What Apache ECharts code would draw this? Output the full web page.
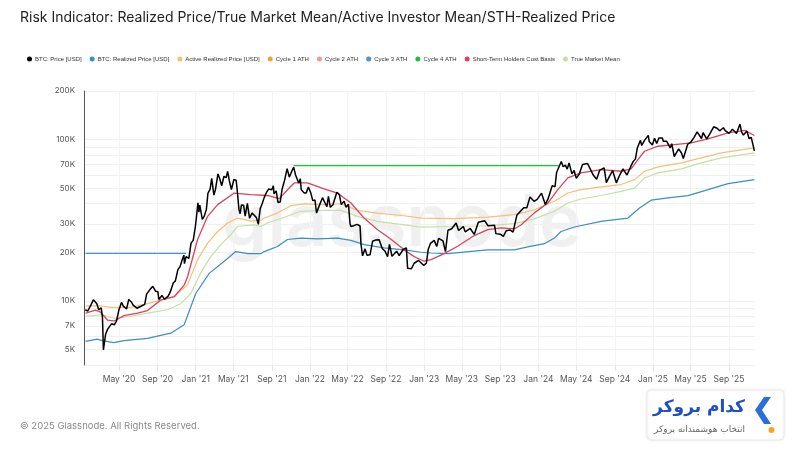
<!DOCTYPE html>
<html>
<head>
<meta charset="utf-8">
<script src="https://cdn.jsdelivr.net/npm/echarts@6/dist/echarts.min.js"></script>
<style>
  html, body { margin: 0; padding: 0; background: #fff; }
  #chart { width: 800px; height: 450px; }
</style>
</head>
<body>
<div id="chart"></div>
<script>
// tick labels
var xTickDates = ['2020-05-01','2020-09-01','2021-01-01','2021-05-01','2021-09-01','2022-01-01','2022-05-01',
  '2022-09-01','2023-01-01','2023-05-01','2023-09-01','2024-01-01','2024-05-01','2024-09-01','2025-01-01',
  '2025-05-01','2025-09-01'];
var yTickLabels = [5000, 7000, 10000, 20000, 30000, 50000, 70000, 100000, 200000];
var yGridValues = [4000, 5000, 6000, 7000, 8000, 9000, 10000, 20000, 30000, 40000, 50000, 60000, 70000,
  80000, 90000, 100000, 200000];

var seriesNames = ['BTC: Price [USD]', 'BTC: Realized Price [USD]', 'Active Realized Price [USD]',
  'Cycle 1 ATH', 'Cycle 2 ATH', 'Cycle 3 ATH', 'Cycle 4 ATH', 'Short-Term Holders Cost Basis', 'True Market Mean'];

// BTC price
var btcPrice = [
  ['2020-01-14', 8800], ['2020-01-22', 8650], ['2020-02-01', 9400], ['2020-02-09', 10150], ['2020-02-13', 10350],
  ['2020-02-20', 9600], ['2020-02-26', 8800], ['2020-03-05', 9050], ['2020-03-09', 7900], ['2020-03-12', 4970],
  ['2020-03-16', 5000], ['2020-03-19', 6200], ['2020-03-26', 6700], ['2020-04-01', 6600], ['2020-04-07', 7200],
  ['2020-04-16', 7100], ['2020-04-23', 7500], ['2020-04-30', 8700], ['2020-05-09', 9800], ['2020-05-14', 9300],
  ['2020-05-25', 8900], ['2020-06-01', 10200], ['2020-06-10', 9800], ['2020-06-15', 9400], ['2020-06-27', 9000],
  ['2020-07-10', 9250], ['2020-07-22', 9500], ['2020-07-28', 11000], ['2020-08-02', 11100], ['2020-08-10', 11900],
  ['2020-08-17', 12300], ['2020-08-26', 11450], ['2020-09-02', 11400], ['2020-09-05', 10200], ['2020-09-15', 10800],
  ['2020-09-23', 10250], ['2020-10-05', 10700], ['2020-10-12', 11400], ['2020-10-21', 12900], ['2020-10-28', 13300],
  ['2020-11-05', 15600], ['2020-11-12', 16300], ['2020-11-18', 17800], ['2020-11-24', 19200], ['2020-11-26', 17000],
  ['2020-12-01', 18800], ['2020-12-10', 18300], ['2020-12-17', 22800], ['2020-12-24', 23700], ['2020-12-31', 29000],
  ['2021-01-03', 32700], ['2021-01-08', 40500], ['2021-01-11', 35500], ['2021-01-14', 39200], ['2021-01-22', 32000],
  ['2021-01-28', 33400], ['2021-02-04', 36900], ['2021-02-09', 46400], ['2021-02-16', 49200], ['2021-02-21', 57500],
  ['2021-02-28', 45200], ['2021-03-05', 48900], ['2021-03-13', 61200], ['2021-03-18', 57700], ['2021-03-25', 51700],
  ['2021-04-01', 59000], ['2021-04-08', 58000], ['2021-04-13', 63500], ['2021-04-18', 56000], ['2021-04-25', 49000],
  ['2021-05-03', 56600], ['2021-05-10', 56000], ['2021-05-13', 49700], ['2021-05-19', 37000], ['2021-05-23', 34700],
  ['2021-05-27', 39300], ['2021-06-03', 39200], ['2021-06-08', 33500], ['2021-06-15', 40200], ['2021-06-22', 32500],
  ['2021-06-30', 35000], ['2021-07-07', 33900], ['2021-07-14', 32800], ['2021-07-20', 29800], ['2021-07-26', 37300],
  ['2021-08-01', 39800], ['2021-08-08', 43800], ['2021-08-15', 47000], ['2021-08-22', 49300], ['2021-09-01', 48800],
  ['2021-09-06', 51700], ['2021-09-08', 46000], ['2021-09-15', 48100], ['2021-09-21', 40700], ['2021-09-28', 41000],
  ['2021-10-04', 49200], ['2021-10-12', 56000], ['2021-10-20', 66000], ['2021-10-27', 58500], ['2021-11-03', 62900],
  ['2021-11-10', 67500], ['2021-11-16', 60300], ['2021-11-20', 59000], ['2021-11-26', 53700], ['2021-12-01', 57200],
  ['2021-12-04', 49000], ['2021-12-13', 46700], ['2021-12-20', 46700], ['2021-12-27', 50800],
  ['2022-01-04', 46400], ['2022-01-10', 41800], ['2022-01-17', 42200], ['2022-01-22', 35000], ['2022-01-28', 37700],
  ['2022-02-10', 43600], ['2022-02-16', 44500], ['2022-02-24', 38300], ['2022-03-01', 44400], ['2022-03-07', 38000],
  ['2022-03-15', 39300], ['2022-03-28', 47100], ['2022-04-05', 45500], ['2022-04-11', 39500], ['2022-04-20', 41500],
  ['2022-04-26', 38100], ['2022-05-04', 39700], ['2022-05-09', 30100], ['2022-05-12', 28900], ['2022-05-20', 29200],
  ['2022-06-01', 29800], ['2022-06-10', 29100], ['2022-06-13', 22500], ['2022-06-18', 19000], ['2022-06-26', 21000],
  ['2022-07-02', 19200], ['2022-07-12', 19300], ['2022-07-20', 23400], ['2022-07-29', 23800], ['2022-08-10', 23900],
  ['2022-08-14', 24300], ['2022-08-20', 21100], ['2022-08-29', 20300], ['2022-09-06', 18800], ['2022-09-12', 22400],
  ['2022-09-20', 18900], ['2022-10-05', 20300], ['2022-10-13', 19100], ['2022-10-26', 20800], ['2022-11-05', 21300],
  ['2022-11-09', 15900], ['2022-11-21', 15800], ['2022-11-30', 17100], ['2022-12-14', 17800], ['2022-12-30', 16600],
  ['2023-01-08', 17100], ['2023-01-14', 20900], ['2023-01-21', 22700], ['2023-02-02', 23700], ['2023-02-10', 21700],
  ['2023-02-16', 24400], ['2023-03-02', 23500], ['2023-03-10', 20200], ['2023-03-18', 27400], ['2023-03-30', 28000],
  ['2023-04-13', 30400], ['2023-04-21', 27300], ['2023-05-06', 28900], ['2023-05-12', 26800], ['2023-05-28', 28100],
  ['2023-06-10', 25800], ['2023-06-15', 25100], ['2023-06-23', 30700], ['2023-07-13', 31400], ['2023-07-24', 29200],
  ['2023-08-14', 29400], ['2023-08-18', 26100], ['2023-09-01', 25900], ['2023-09-11', 25100], ['2023-09-20', 27200],
  ['2023-10-02', 27500], ['2023-10-12', 26700], ['2023-10-24', 33900], ['2023-11-09', 36700], ['2023-11-15', 37800],
  ['2023-11-25', 37700], ['2023-12-05', 44000], ['2023-12-18', 41400], ['2023-12-28', 42600],
  ['2024-01-11', 46500], ['2024-01-23', 39500], ['2024-02-01', 43000], ['2024-02-14', 51800], ['2024-02-23', 51000],
  ['2024-02-28', 62400], ['2024-03-05', 63800], ['2024-03-14', 73100], ['2024-03-20', 67900], ['2024-03-27', 69400],
  ['2024-04-02', 65600], ['2024-04-08', 71700], ['2024-04-17', 61300], ['2024-04-24', 64300], ['2024-05-01', 57600],
  ['2024-05-10', 60800], ['2024-05-21', 70100], ['2024-06-06', 71000], ['2024-06-14', 66000], ['2024-06-24', 60300],
  ['2024-07-05', 56700], ['2024-07-15', 64700], ['2024-07-29', 66800], ['2024-08-05', 54000], ['2024-08-14', 58700],
  ['2024-08-25', 64200], ['2024-09-06', 53900], ['2024-09-15', 59200], ['2024-09-27', 65800], ['2024-10-10', 60300],
  ['2024-10-21', 67400], ['2024-10-29', 72700], ['2024-11-06', 75900], ['2024-11-12', 88700], ['2024-11-22', 98900],
  ['2024-11-26', 91900], ['2024-12-05', 98800], ['2024-12-17', 106100], ['2024-12-20', 97200], ['2024-12-30', 92600],
  ['2025-01-06', 102000], ['2025-01-13', 94500], ['2025-01-20', 102300], ['2025-01-31', 102400], ['2025-02-03', 97600],
  ['2025-02-14', 97500], ['2025-02-25', 88700], ['2025-03-02', 94300], ['2025-03-10', 78500], ['2025-03-24', 87500],
  ['2025-04-02', 82500], ['2025-04-08', 76300], ['2025-04-22', 93500], ['2025-05-02', 96500], ['2025-05-12', 102800],
  ['2025-05-22', 111700], ['2025-06-05', 101500], ['2025-06-10', 110200], ['2025-06-22', 101000], ['2025-07-03', 109600],
  ['2025-07-14', 120000], ['2025-07-25', 117600], ['2025-08-02', 113300], ['2025-08-14', 118300], ['2025-08-20', 113500],
  ['2025-09-01', 109200], ['2025-09-12', 115900], ['2025-09-25', 109000], ['2025-10-06', 124700], ['2025-10-11', 111500],
  ['2025-10-17', 106500], ['2025-10-28', 113000], ['2025-11-04', 101500], ['2025-11-11', 103000], ['2025-11-17', 92000],
  ['2025-11-21', 85000]
];

// BTC realized price
var realizedPrice = [
  ['2020-01-15', 5600], ['2020-02-21', 5790], ['2020-03-08', 5670], ['2020-04-14', 5500], ['2020-05-17', 5670],
  ['2020-07-31', 5850], ['2020-10-13', 6300], ['2020-11-25', 7100], ['2021-01-01', 11100], ['2021-02-13', 14800],
  ['2021-04-02', 17600], ['2021-05-09', 20200], ['2021-06-16', 19600], ['2021-07-28', 19600], ['2021-08-08', 20200],
  ['2021-09-19', 21700], ['2021-10-21', 24000], ['2021-12-03', 24500], ['2022-01-25', 24200], ['2022-03-30', 24500],
  ['2022-05-12', 23700], ['2022-06-23', 22300], ['2022-08-26', 21300], ['2022-10-29', 20700], ['2022-12-22', 20000],
  ['2023-01-23', 19800], ['2023-03-17', 19600], ['2023-07-23', 20700], ['2023-10-16', 20700], ['2023-11-28', 21600],
  ['2024-01-20', 22600], ['2024-02-21', 24500], ['2024-03-13', 26900], ['2024-04-25', 28700], ['2024-07-19', 31100],
  ['2024-10-13', 32600], ['2024-11-19', 37600], ['2024-12-26', 42100], ['2025-02-18', 43500], ['2025-04-23', 44900],
  ['2025-06-26', 48900], ['2025-08-29', 53300], ['2025-11-21', 56400]
];

// Active realized price
var activeRealized = [
  ['2020-01-15', 9300], ['2020-03-03', 9300], ['2020-04-04', 9100], ['2020-06-07', 9100], ['2020-07-31', 9600],
  ['2020-09-11', 10100], ['2020-10-24', 10600], ['2020-12-06', 12600], ['2021-01-07', 18000], ['2021-02-08', 22800],
  ['2021-03-12', 26900], ['2021-04-13', 30400], ['2021-05-15', 32600], ['2021-06-26', 31200], ['2021-07-28', 31600],
  ['2021-08-08', 32600], ['2021-09-19', 35000], ['2021-11-01', 38900], ['2021-12-14', 39900], ['2022-02-15', 39500],
  ['2022-04-10', 40000], ['2022-06-02', 36400], ['2022-08-05', 35000], ['2022-10-29', 33700], ['2022-12-22', 32600],
  ['2023-04-07', 32300], ['2023-07-23', 33000], ['2023-10-16', 34200], ['2023-12-19', 36700], ['2024-02-21', 41400],
  ['2024-04-04', 46600], ['2024-05-16', 48900], ['2024-07-19', 50900], ['2024-09-21', 52600], ['2024-11-03', 56400],
  ['2024-12-05', 63600], ['2025-01-17', 67700], ['2025-04-02', 71600], ['2025-06-04', 77000], ['2025-08-07', 82700],
  ['2025-11-21', 88800]
];

var cycle1Ath = [];
var cycle2Ath = [];
var cycle3Ath = [['2020-01-15', 19700], ['2020-12-01', 19700]];
var cycle4Ath = [['2021-11-10', 69000], ['2024-03-05', 69000]];

// Short-term holders cost basis
var sthCostBasis = [
  ['2020-01-15', 8400], ['2020-02-16', 8750], ['2020-03-03', 8500], ['2020-03-25', 7600], ['2020-04-15', 7500],
  ['2020-05-17', 8100], ['2020-06-29', 8400], ['2020-07-31', 8700], ['2020-09-11', 10100], ['2020-10-24', 10600],
  ['2020-11-25', 12500], ['2020-12-06', 14100], ['2021-01-07', 24000], ['2021-02-08', 33400], ['2021-03-12', 39500],
  ['2021-05-04', 46600], ['2021-06-26', 45500], ['2021-08-18', 45000], ['2021-09-25', 43000], ['2021-11-01', 51300],
  ['2021-11-12', 53800], ['2021-12-24', 53800], ['2022-02-15', 49400], ['2022-03-30', 46600], ['2022-05-12', 40400],
  ['2022-06-23', 32600], ['2022-08-05', 27600], ['2022-09-17', 24100], ['2022-10-29', 20700], ['2022-11-30', 18800],
  ['2023-01-01', 17600], ['2023-01-23', 18000], ['2023-03-06', 19600], ['2023-04-18', 21800], ['2023-06-10', 25400],
  ['2023-07-23', 27600], ['2023-09-04', 28300], ['2023-10-16', 27900], ['2023-11-07', 29600], ['2023-12-19', 35100],
  ['2024-01-31', 40400], ['2024-03-03', 48900], ['2024-04-04', 57800], ['2024-05-16', 62100], ['2024-07-19', 65100],
  ['2024-09-21', 63600], ['2024-10-23', 65800], ['2024-11-14', 75000], ['2024-12-05', 84600], ['2025-01-17', 90900],
  ['2025-03-11', 93100], ['2025-05-03', 95400], ['2025-06-26', 101000], ['2025-08-29', 110000], ['2025-10-21', 114000],
  ['2025-11-21', 106000]
];

// True market mean
var trueMarketMean = [
  ['2020-01-15', 8000], ['2020-03-03', 8200], ['2020-04-15', 7800], ['2020-06-07', 8000], ['2020-07-31', 8400],
  ['2020-10-03', 8800], ['2020-11-14', 9600], ['2020-12-16', 11100], ['2021-01-17', 14900], ['2021-02-18', 18800],
  ['2021-03-22', 22300], ['2021-04-23', 25700], ['2021-05-15', 29000], ['2021-07-07', 29600], ['2021-07-28', 28900],
  ['2021-08-18', 30400], ['2021-10-11', 33000], ['2021-12-03', 35900], ['2022-02-15', 36400], ['2022-04-10', 36400],
  ['2022-06-02', 33400], ['2022-08-05', 31100], ['2022-10-29', 29600], ['2022-12-22', 28600], ['2023-04-07', 28900],
  ['2023-07-23', 29200], ['2023-10-16', 30100], ['2023-12-19', 32200], ['2024-02-21', 35900], ['2024-04-04', 40400],
  ['2024-05-16', 42800], ['2024-07-19', 45000], ['2024-09-21', 47700], ['2024-11-03', 50000], ['2024-12-05', 57800],
  ['2025-01-17', 62100], ['2025-04-02', 65800], ['2025-06-04', 71600], ['2025-08-07', 77000], ['2025-11-21', 82700]
];

var months = ['Jan','Feb','Mar','Apr','May','Jun','Jul','Aug','Sep','Oct','Nov','Dec'];

function ts(d) { return Date.parse(d + 'T00:00:00Z'); }
function toPoints(arr) { return arr.map(function (p) { return [ts(p[0]), p[1]]; }); }

var chart = echarts.init(document.getElementById('chart'));

function lineSeries(name, data, color, width, z) {
  return {
    name: name,
    type: 'line',
    data: toPoints(data),
    showSymbol: false,
    symbol: 'circle',
    symbolSize: 4,
    itemStyle: { color: color },
    lineStyle: { color: color, width: width, opacity: 1 },
    emphasis: { disabled: true },
    z: z,
    animation: false
  };
}

var xTicks = xTickDates.map(ts);

var option = {
  backgroundColor: '#fff',
  title: {
    text: 'Risk Indicator: Realized Price/True Market Mean/Active Investor Mean/STH-Realized Price',
    left: 20,
    top: 11,
    padding: 0,
    textStyle: { fontSize: 14, fontWeight: 'normal', color: '#222', fontFamily: 'Inter' }
  },
  legend: {
    left: 22,
    top: 51,
    icon: 'circle',
    itemWidth: 5,
    itemHeight: 5,
    itemGap: 8,
    textStyle: { fontSize: 6, color: '#333', fontFamily: 'Liberation Sans', padding: [0, 0, 0, -2] },
    data: seriesNames
  },
  grid: { left: 84, right: 45, top: 91, bottom: 85 },
  xAxis: {
    type: 'value',
    min: ts('2020-01-10'),
    max: ts('2025-11-23'),
    axisLine: { show: false },
    axisTick: { show: true, length: 6, lineStyle: { color: '#e6e6e6' }, customValues: xTicks },
    splitLine: { show: true, lineStyle: { color: '#f4f4f4', width: 1 } },
    axisLabel: {
      customValues: xTicks,
      color: '#555',
      fontSize: 8.5,
      fontFamily: 'Inter',
      margin: 10,
      formatter: function (v) {
        var d = new Date(v);
        return months[d.getUTCMonth()] + " '" + String(d.getUTCFullYear()).slice(2);
      }
    }
  },
  yAxis: {
    type: 'log',
    logBase: 10,
    min: 4000,
    max: 200000,
    axisLine: { show: true, lineStyle: { color: '#555', width: 1 } },
    axisTick: { show: false, customValues: yGridValues },
    splitLine: { show: true, lineStyle: { color: '#f0f0f0', width: 1 } },
    axisLabel: {
      customValues: yTickLabels,
      color: '#555',
      fontSize: 8,
      fontFamily: 'Inter',
      margin: 9,
      formatter: function (v) { return Math.round(v / 1000) + 'K'; }
    }
  },
  graphic: [
    {
      type: 'text', x: 402, y: 224, z: 0, silent: true,
      style: { text: 'glassnode', fontSize: 72, fontWeight: 600, fill: '#f0f0f0', fontFamily: 'Inter',
        align: 'center', verticalAlign: 'middle' }
    },
    {
      type: 'text', left: 20, top: 421,
      style: { text: '© 2025 Glassnode. All Rights Reserved.', fontSize: 9.5, fill: '#8a8a8a', fontFamily: 'Inter' }
    },
    {
      type: 'rect', z: 9,
      shape: { x: 647, y: 390, width: 137, height: 50, r: 4 },
      style: { fill: '#fff', stroke: '#ececec', lineWidth: 1, shadowBlur: 3, shadowColor: 'rgba(0,0,0,0.08)' }
    },
    {
      type: 'text', z: 10, x: 745, y: 408,
      style: { text: 'کدام بروکر', fontSize: 17, fontWeight: 'bold', fill: '#1f4fc4', fontFamily: 'DejaVu Sans',
        align: 'right', verticalAlign: 'middle' }
    },
    {
      type: 'text', z: 10, x: 745, y: 430,
      style: { text: 'انتخاب هوشمندانه بروکر', fontSize: 9, fill: '#666', fontFamily: 'DejaVu Sans',
        align: 'right', verticalAlign: 'middle' }
    },
    {
      type: 'polygon', z: 10,
      shape: { points: [[764, 397], [755, 410], [764, 424], [771, 424], [762, 410], [771, 397]] },
      style: { fill: '#2a6fd6' }
    },
    {
      type: 'circle', z: 10,
      shape: { cx: 771.5, cy: 430, r: 3 },
      style: { fill: '#f5a623' }
    }
  ],
  series: [
    lineSeries(seriesNames[0], btcPrice, '#000000', 1.5, 9),
    lineSeries(seriesNames[1], realizedPrice, '#3a8fc4', 1.2, 4),
    lineSeries(seriesNames[2], activeRealized, '#f5bf7a', 1.2, 4),
    lineSeries(seriesNames[3], cycle1Ath, '#f2a33a', 1.2, 3),
    lineSeries(seriesNames[4], cycle2Ath, '#ef9a9a', 1.2, 3),
    lineSeries(seriesNames[5], cycle3Ath, '#4b90e2', 1.2, 3),
    lineSeries(seriesNames[6], cycle4Ath, '#1fbf3a', 1.3, 3),
    lineSeries(seriesNames[7], sthCostBasis, '#d6455d', 1.3, 5),
    lineSeries(seriesNames[8], trueMarketMean, '#c5e0a5', 1.2, 4)
  ]
};
chart.setOption(option);
</script>
</body>
</html>
